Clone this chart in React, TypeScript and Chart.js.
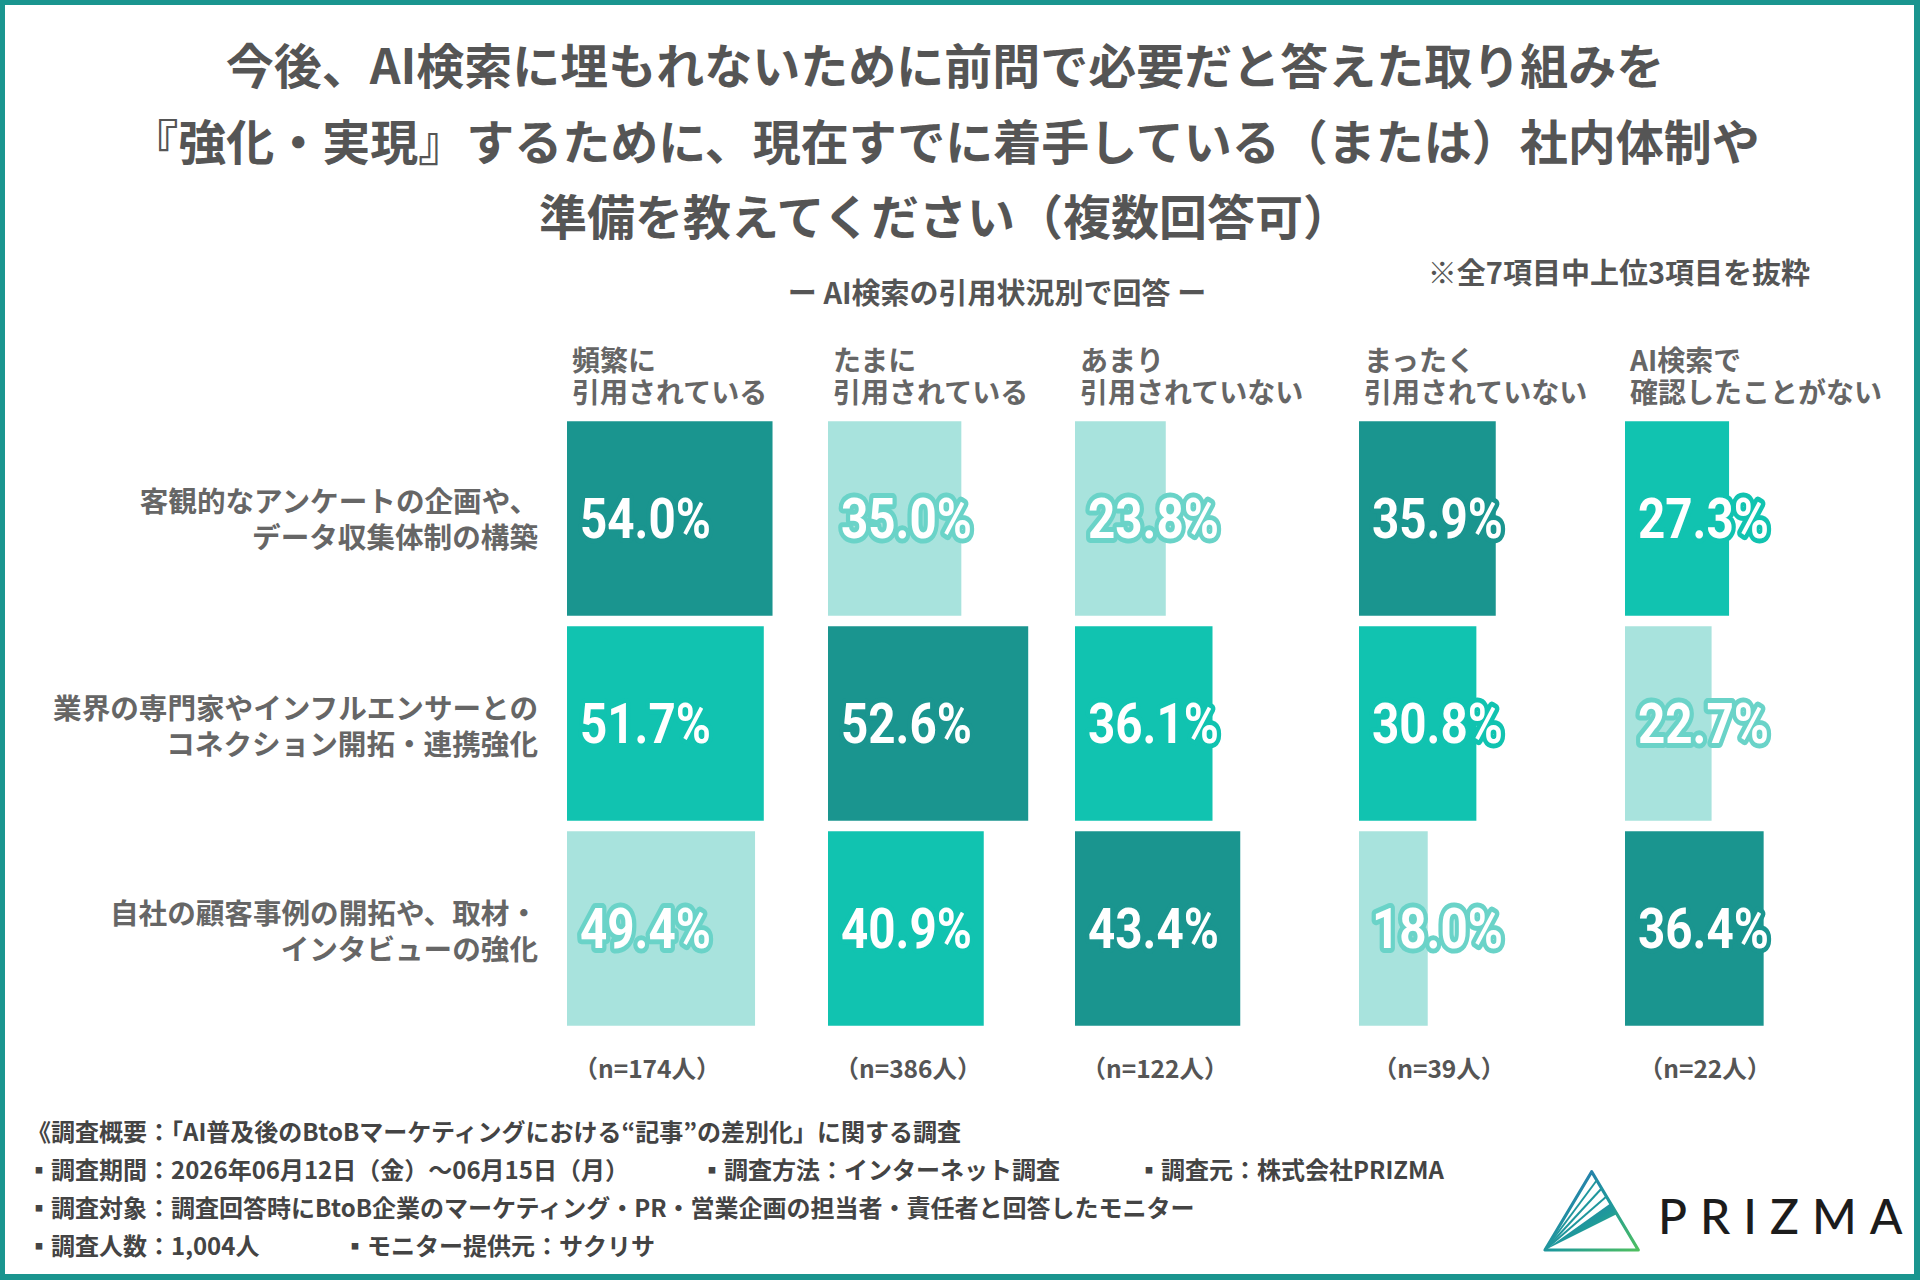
import React, { useEffect, useRef } from 'react';
import { Chart, registerables } from 'chart.js';

Chart.register(...registerables);

// ---- data ----
const ITEMS: string[][] = [
  ['客観的なアンケートの企画や、', 'データ収集体制の構築'],
  ['業界の専門家やインフルエンサーとの', 'コネクション開拓・連携強化'],
  ['自社の顧客事例の開拓や、取材・', 'インタビューの強化'],
];
const GROUPS: string[][] = [
  ['頻繁に', '引用されている'],
  ['たまに', '引用されている'],
  ['あまり', '引用されていない'],
  ['まったく', '引用されていない'],
  ['AI検索で', '確認したことがない'],
];
const SAMPLE_SIZES = [174, 386, 122, 39, 22];
const FREQUENT = [54.0, 51.7, 49.4];
const SOMETIMES = [35.0, 52.6, 40.9];
const RARELY = [23.8, 36.1, 43.4];
const NEVER = [35.9, 30.8, 18.0];
const UNCHECKED = [27.3, 22.7, 36.4];
const SERIES = [FREQUENT, SOMETIMES, RARELY, NEVER, UNCHECKED];
const X_MAX = 60;

// ---- styling ----
const JP_FONT = '"Noto Sans CJK JP", "Noto Sans", sans-serif';
const NUM_FONT = 'Roboto, "DejaVu Sans Condensed", sans-serif';
const NUM_SIZE = 56;
const NUM_SCALE_X = 0.85;
const RANK_FILL = ['#1a958f', '#11c3b0', '#a8e3dd'];
const RANK_STROKE = ['#1a958f', '#11c3b0', '#6ad3c8'];
const COL_LEFT = [567, 828, 1075, 1359, 1625];
const CHART_TOP = 416;
const BAND = 205;
const CANVAS_W = 228;
const CANVAS_H = BAND * 3;

function rankOf(values: number[], i: number) {
  return values.filter((v) => v > values[i]).length;
}

const valueLabels = {
  id: 'valueLabels',
  afterDatasetsDraw(chart: any) {
    const ctx = chart.ctx as CanvasRenderingContext2D;
    const values = chart.data.datasets[0].data as number[];
    const meta = chart.getDatasetMeta(0);
    meta.data.forEach((bar: any, i: number) => {
      const { y, base } = bar.getProps(['y', 'base'], true);
      const text = values[i].toFixed(1) + '%';
      ctx.save();
      ctx.translate(base + 13, y + NUM_SIZE * 0.355);
      ctx.scale(NUM_SCALE_X, 1);
      ctx.font = `bold ${NUM_SIZE}px ${NUM_FONT}`;
      ctx.textAlign = 'left';
      ctx.textBaseline = 'alphabetic';
      ctx.lineJoin = 'round';
      ctx.lineWidth = 10;
      ctx.strokeStyle = RANK_STROKE[rankOf(values, i)];
      ctx.strokeText(text, 0, 0);
      ctx.fillStyle = '#ffffff';
      ctx.fillText(text, 0, 0);
      ctx.restore();
    });
  },
};

function GroupChart({ values, left }: { values: number[]; left: number }) {
  const ref = useRef<HTMLCanvasElement>(null);
  useEffect(() => {
    const chart = new Chart(ref.current as HTMLCanvasElement, {
      type: 'bar',
      data: {
        labels: ITEMS.map((l) => l.join('')),
        datasets: [
          {
            data: values,
            backgroundColor: values.map((_, i) => RANK_FILL[rankOf(values, i)]),
            borderWidth: 0,
            barThickness: 194,
          },
        ],
      },
      options: {
        indexAxis: 'y',
        animation: false,
        responsive: false,
        maintainAspectRatio: false,
        devicePixelRatio: 1,
        layout: { padding: 0 },
        plugins: { legend: { display: false }, tooltip: { enabled: false } },
        scales: {
          x: { display: false, min: 0, max: X_MAX },
          y: { display: false },
        },
      },
      plugins: [valueLabels],
    } as any);
    return () => chart.destroy();
  }, [values]);
  return (
    <canvas
      ref={ref}
      width={CANVAS_W}
      height={CANVAS_H}
      style={{ position: 'absolute', left, top: CHART_TOP, width: CANVAS_W, height: CANVAS_H }}
    />
  );
}

function Logo() {
  return (
    <svg
      width={100}
      height={90}
      viewBox="0 0 100 90"
      style={{ position: 'absolute', left: 1541, top: 1166 }}
    >
      <defs>
        <linearGradient id="prz" x1="0" y1="0" x2="1" y2="1">
          <stop offset="0" stopColor="#2a6fb8" />
          <stop offset="0.55" stopColor="#1f9a9a" />
          <stop offset="1" stopColor="#4fbf5f" />
        </linearGradient>
      </defs>
      <g fill="none" stroke="url(#prz)" strokeWidth={3.2} strokeLinejoin="round">
        <polygon points="50.7,5.7 4,84 97.3,84" />
        <line x1="4" y1="84" x2="56" y2="14" strokeWidth={2} />
        <line x1="4" y1="84" x2="61" y2="22" strokeWidth={2} />
        <line x1="4" y1="84" x2="66" y2="30" strokeWidth={2} />
      </g>
      <polygon points="4,84 70,37 76,48" fill="url(#prz)" />
    </svg>
  );
}

const abs = (s: React.CSSProperties): React.CSSProperties => ({ position: 'absolute', ...s });

export default function App() {
  const titleLines = [
    '今後、AI検索に埋もれないために前問で必要だと答えた取り組みを',
    '『強化・実現』するために、現在すでに着手している（または）社内体制や',
    '準備を教えてください（複数回答可）',
  ];
  const rowTops = [482, 689, 894];
  const noteStyle: React.CSSProperties = { whiteSpace: 'nowrap' };
  return (
    <div
      style={{
        position: 'absolute',
        left: 0,
        top: 0,
        width: 1920,
        height: 1280,
        boxSizing: 'border-box',
        borderStyle: 'solid',
        borderColor: '#1a958f',
        borderWidth: '5px 6px 6px 5px',
        background: '#ffffff',
        fontFamily: JP_FONT,
        overflow: 'hidden',
      }}
    >
      <div style={{ position: 'absolute', left: -5, top: -5, width: 1920, height: 1280 }}>
        {/* title */}
        <div
          style={abs({
            left: 0,
            top: 26,
            width: 1890,
            textAlign: 'center',
            fontSize: 48,
            lineHeight: '75.5px',
            fontWeight: 700,
            color: '#555555',
          })}
        >
          {titleLines.map((t) => (
            <div key={t}>{t}</div>
          ))}
        </div>
        <div
          style={abs({
            left: 697,
            top: 274,
            width: 600,
            textAlign: 'center',
            fontSize: 29,
            lineHeight: '34px',
            fontWeight: 700,
            color: '#555555',
          })}
        >
          ー AI検索の引用状況別で回答 ー
        </div>
        <div
          style={abs({
            right: 110,
            top: 254,
            fontSize: 29,
            lineHeight: '34px',
            fontWeight: 700,
            color: '#555555',
            whiteSpace: 'nowrap',
          })}
        >
          ※全7項目中上位3項目を抜粋
        </div>

        {/* column headers */}
        {GROUPS.map((g, i) => (
          <div
            key={g.join('')}
            style={abs({
              left: COL_LEFT[i] + 5,
              top: 343,
              fontSize: 28,
              lineHeight: '32px',
              fontWeight: 700,
              color: '#666666',
              whiteSpace: 'nowrap',
            })}
          >
            <div>{g[0]}</div>
            <div>{g[1]}</div>
          </div>
        ))}

        {/* row labels */}
        {ITEMS.map((item, i) => (
          <div
            key={item.join('')}
            style={abs({
              right: 1920 - 538,
              top: rowTops[i],
              textAlign: 'right',
              fontSize: 28.6,
              lineHeight: '35.5px',
              fontWeight: 700,
              color: '#666666',
              whiteSpace: 'nowrap',
            })}
          >
            <div>{item[0]}</div>
            <div>{item[1]}</div>
          </div>
        ))}

        {/* charts */}
        {SERIES.map((values, i) => (
          <GroupChart key={i} values={values} left={COL_LEFT[i]} />
        ))}

        {/* sample sizes */}
        {SAMPLE_SIZES.map((n, i) => (
          <div
            key={n}
            style={abs({
              left: COL_LEFT[i] + 80 - 100,
              top: 1051,
              width: 200,
              textAlign: 'center',
              fontSize: 24.5,
              lineHeight: '34px',
              fontWeight: 700,
              color: '#555555',
            })}
          >
            （n={n}人）
          </div>
        ))}

        {/* survey notes */}
        <div style={abs({ left: 0, top: 0, fontSize: 24, fontWeight: 700, color: '#444444', lineHeight: '38px' })}>
          <div style={abs({ left: 27, top: 1112, ...noteStyle })}>《調査概要：「AI普及後のBtoBマーケティングにおける“記事”の差別化」に関する調査</div>
          <div style={abs({ left: 27, top: 1150, ...noteStyle })}>▪調査期間：2026年06月12日（金）〜06月15日（月）</div>
          <div style={abs({ left: 700, top: 1150, ...noteStyle })}>▪調査方法：インターネット調査</div>
          <div style={abs({ left: 1137, top: 1150, ...noteStyle })}>▪調査元：株式会社PRIZMA</div>
          <div style={abs({ left: 27, top: 1188, ...noteStyle })}>▪調査対象：調査回答時にBtoB企業のマーケティング・PR・営業企画の担当者・責任者と回答したモニター</div>
          <div style={abs({ left: 27, top: 1226, ...noteStyle })}>▪調査人数：1,004人</div>
          <div style={abs({ left: 343, top: 1226, ...noteStyle })}>▪モニター提供元：サクリサ</div>
        </div>

        {/* logo */}
        <Logo />
        <div
          style={abs({
            left: 1658,
            top: 1188,
            fontFamily: 'Lato, "Open Sans", sans-serif',
            fontSize: 48,
            lineHeight: '56px',
            fontWeight: 500,
            letterSpacing: 13,
            color: '#1c1c1c',
            whiteSpace: 'nowrap',
          })}
        >
          PRIZMA
        </div>
      </div>
    </div>
  );
}
